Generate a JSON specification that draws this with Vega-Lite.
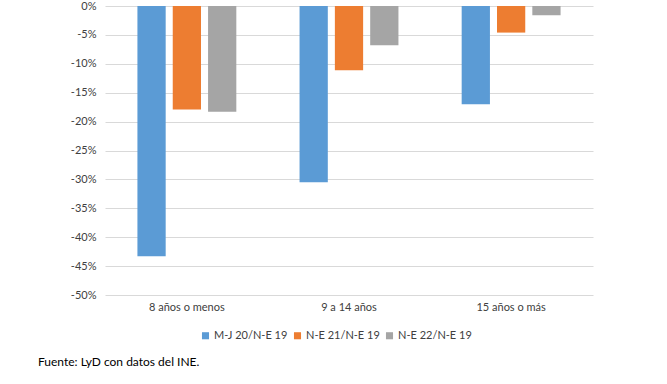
{
  "$schema": "https://vega.github.io/schema/vega-lite/v6.json",
  "autosize": {"type": "none"},
  "width": 488,
  "height": 289,
  "padding": {"left": 105, "top": 6, "right": 74, "bottom": 89},
  "background": "white",
  "config": {
    "font": "Lato",
    "view": {"stroke": null}
  },
  "data": {
    "values": [
      {"grupo": "8 años o menos", "serie": "M-J 20/N-E 19", "valor": -0.433},
      {"grupo": "8 años o menos", "serie": "N-E 21/N-E 19", "valor": -0.179},
      {"grupo": "8 años o menos", "serie": "N-E 22/N-E 19", "valor": -0.183},
      {"grupo": "9 a 14 años", "serie": "M-J 20/N-E 19", "valor": -0.305},
      {"grupo": "9 a 14 años", "serie": "N-E 21/N-E 19", "valor": -0.111},
      {"grupo": "9 a 14 años", "serie": "N-E 22/N-E 19", "valor": -0.068},
      {"grupo": "15 años o más", "serie": "M-J 20/N-E 19", "valor": -0.170},
      {"grupo": "15 años o más", "serie": "N-E 21/N-E 19", "valor": -0.046},
      {"grupo": "15 años o más", "serie": "N-E 22/N-E 19", "valor": -0.016}
    ]
  },
  "title": {
    "text": "Fuente: LyD con datos del INE.",
    "orient": "bottom",
    "anchor": "start",
    "frame": "group",
    "dx": -67,
    "offset": 16,
    "fontSize": 12,
    "fontWeight": "normal",
    "color": "#000000",
    "font": "Lato"
  },
  "mark": {"type": "bar"},
  "encoding": {
    "x": {
      "field": "grupo",
      "type": "nominal",
      "sort": ["8 años o menos", "9 a 14 años", "15 años o más"],
      "scale": {"paddingInner": 0.39, "paddingOuter": 0.2},
      "axis": {
        "title": null,
        "orient": "bottom",
        "labelAngle": 0,
        "ticks": false,
        "domain": false,
        "labelPadding": 6,
        "labelFontSize": 11,
        "labelColor": "#404040",
        "labelFont": "Lato"
      }
    },
    "xOffset": {
      "field": "serie",
      "type": "nominal",
      "scale": {"paddingInner": 0.2}
    },
    "y": {
      "field": "valor",
      "type": "quantitative",
      "scale": {"domain": [-0.5, 0], "nice": false},
      "axis": {
        "title": null,
        "labelExpr": "replace(format(datum.value, '.0%'), '\u2212', '-')",
        "values": [0, -0.05, -0.1, -0.15, -0.2, -0.25, -0.3, -0.35, -0.4, -0.45, -0.5],
        "ticks": false,
        "domain": false,
        "gridColor": "#d9d9d9",
        "gridWidth": 1,
        "labelPadding": 9,
        "labelFontSize": 11,
        "labelColor": "#404040",
        "labelFont": "Lato"
      }
    },
    "color": {
      "field": "serie",
      "type": "nominal",
      "scale": {
        "domain": ["M-J 20/N-E 19", "N-E 21/N-E 19", "N-E 22/N-E 19"],
        "range": ["#5b9bd5", "#ed7d31", "#a5a5a5"]
      },
      "legend": {
        "title": null,
        "orient": "none",
        "direction": "horizontal",
        "legendX": 95,
        "legendY": 324,
        "symbolType": "square",
        "symbolSize": 50,
        "symbolStrokeWidth": 0,
        "labelFontSize": 11,
        "labelColor": "#404040",
        "labelFont": "Lato",
        "columnPadding": 4,
        "labelOffset": 3
      }
    }
  }
}
